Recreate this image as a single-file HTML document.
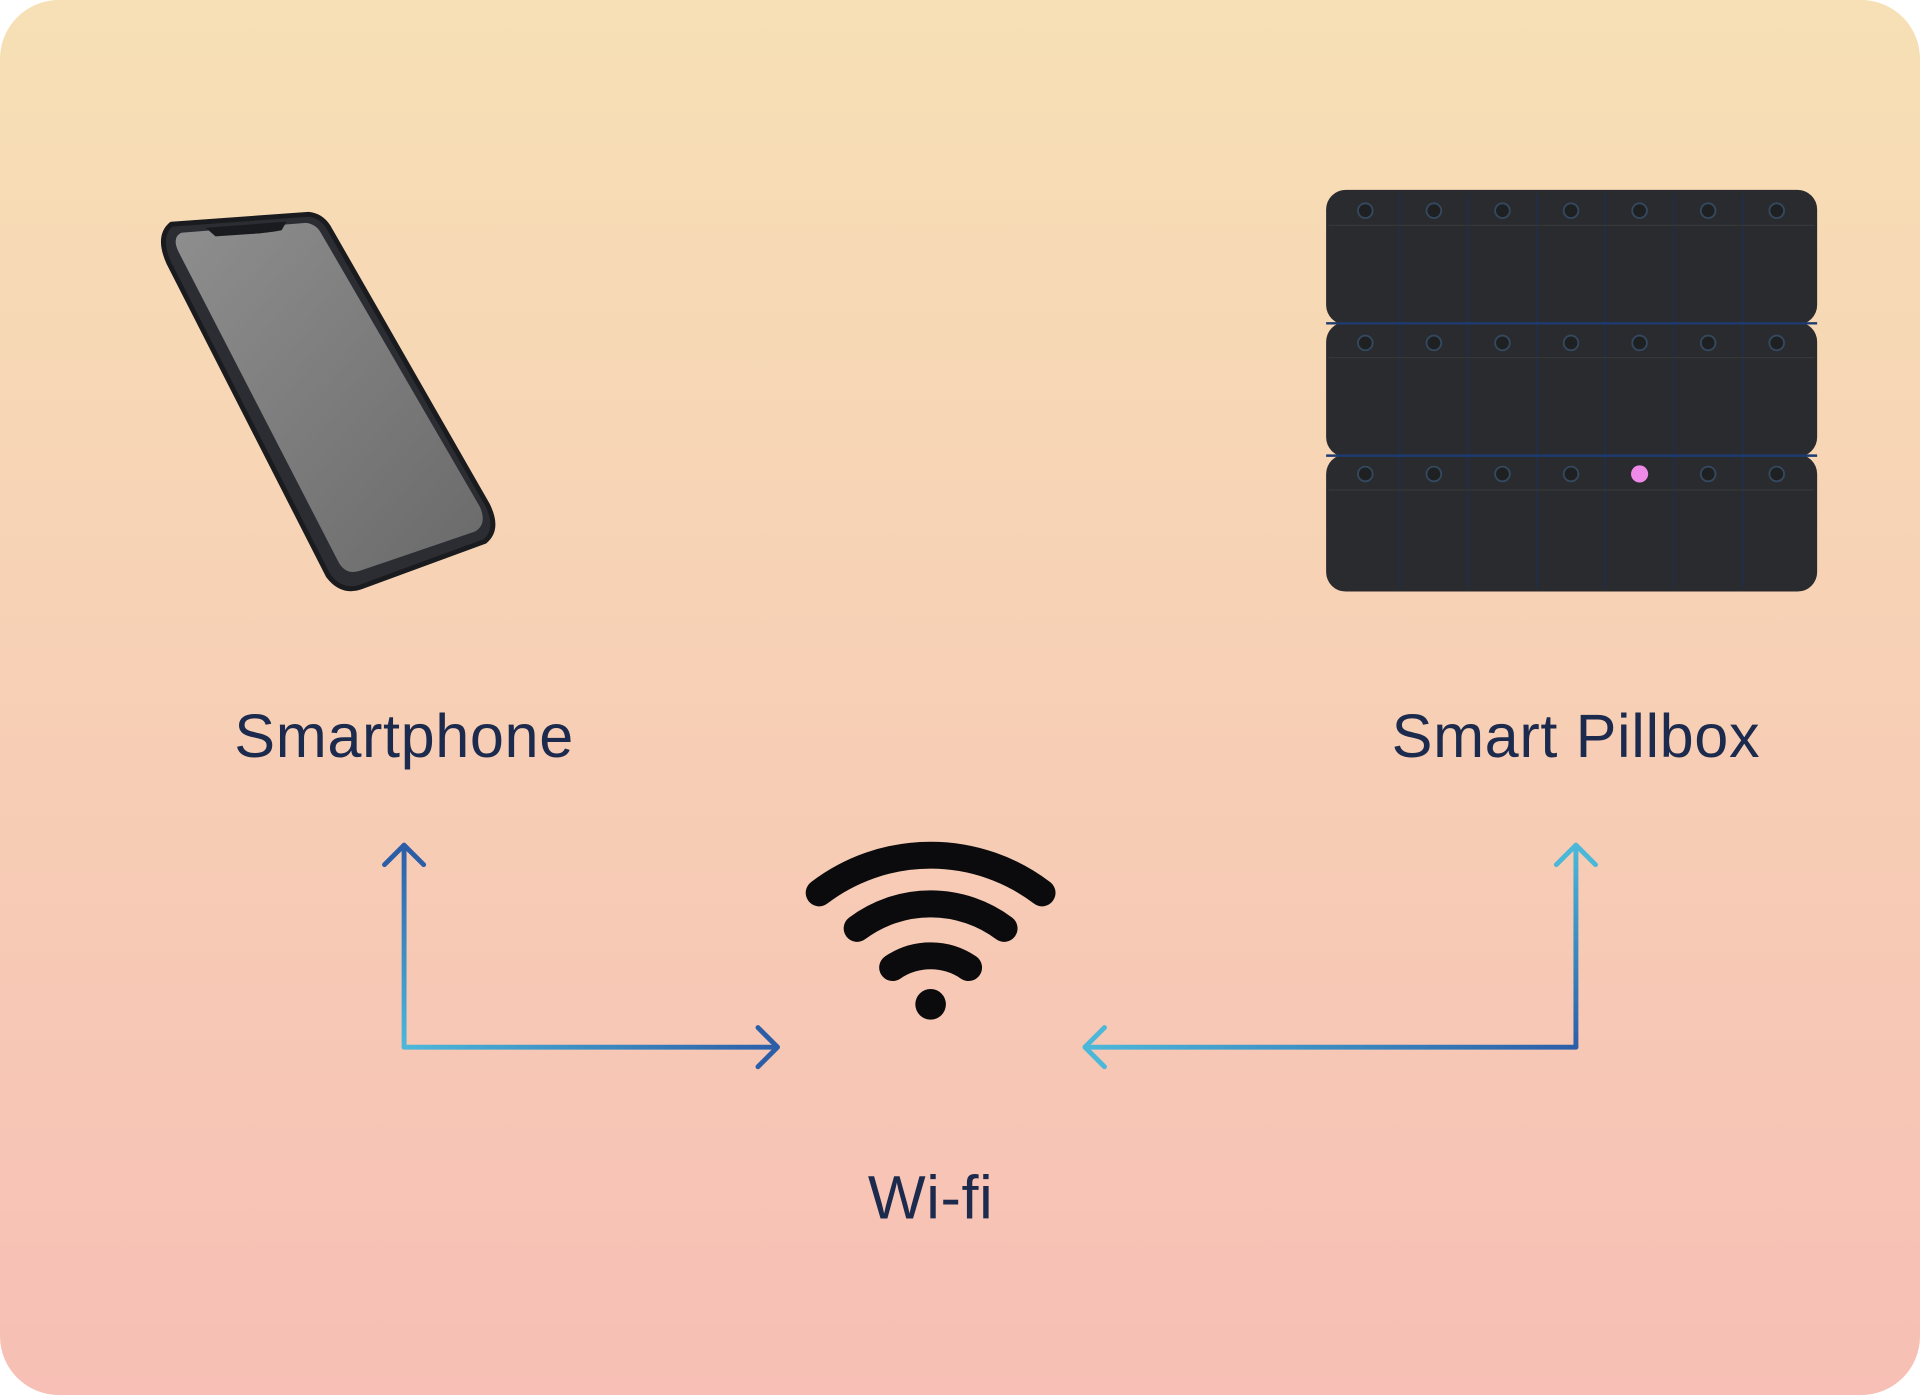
<!DOCTYPE html>
<html><head><meta charset="utf-8"><style>
html,body{margin:0;padding:0;background:#fff;}
svg{display:block}
</style></head><body>
<svg width="1920" height="1395" viewBox="0 0 1568 1139" preserveAspectRatio="none" xmlns="http://www.w3.org/2000/svg">
<defs>
<linearGradient id="bg" x1="0" y1="0" x2="0" y2="1">
<stop offset="0" stop-color="#f7e0b5"/><stop offset="1" stop-color="#f7bfb5"/>
</linearGradient>
<linearGradient id="scr" x1="0" y1="0" x2="1" y2="1">
<stop offset="0" stop-color="#8e8e8e"/><stop offset="1" stop-color="#6a6a6a"/>
</linearGradient>
<linearGradient id="lv" x1="0" y1="690" x2="0" y2="855" gradientUnits="userSpaceOnUse">
<stop offset="0" stop-color="#2c5ea8"/><stop offset="1" stop-color="#4cb8d9"/>
</linearGradient>
<linearGradient id="lh" x1="330" y1="0" x2="636" y2="0" gradientUnits="userSpaceOnUse">
<stop offset="0" stop-color="#4cb8d9"/><stop offset="1" stop-color="#2c5ea8"/>
</linearGradient>
<linearGradient id="rv" x1="0" y1="690" x2="0" y2="855" gradientUnits="userSpaceOnUse">
<stop offset="0" stop-color="#4cb8d9"/><stop offset="1" stop-color="#2c5ea8"/>
</linearGradient>
<linearGradient id="rh" x1="886" y1="0" x2="1287" y2="0" gradientUnits="userSpaceOnUse">
<stop offset="0" stop-color="#4cb8d9"/><stop offset="1" stop-color="#2c5ea8"/>
</linearGradient>
</defs>
<rect x="0" y="0" width="1568" height="1139" rx="48" fill="url(#bg)"/>

<!-- phone -->
<path d="M140 183 L252 175 Q262 176 268 185 L398 412 Q408 432 396 442 L298 478 Q280 486 268 470 L138 215 Q128 193 140 183 Z" fill="#2b2d33" stroke="#1a1b1f" stroke-width="4" stroke-linejoin="round"/>
<path d="M148 190 L250 182 Q258 183 262 190 L392 414 Q398 428 388 434 L294 466 Q282 470 276 458 L146 206 Q140 194 148 190 Z" fill="url(#scr)"/>
<path d="M168 186 L234 181 L230 188 Q220 190 206 191 L176 193 Z" fill="#1a1b1f"/>

<!-- pillbox -->
<g>
<rect x="1083" y="155" width="401" height="110" rx="16" fill="#2a2b2e"/>
<rect x="1083" y="263" width="401" height="110" rx="16" fill="#2a2b2e"/>
<rect x="1083" y="371" width="401" height="112" rx="16" fill="#2a2b2e"/>
<g stroke="#1f2e4e" stroke-width="1.2">
<line x1="1143" y1="158" x2="1143" y2="480"/>
<line x1="1199" y1="158" x2="1199" y2="480"/>
<line x1="1255" y1="158" x2="1255" y2="480"/>
<line x1="1311" y1="158" x2="1311" y2="480"/>
<line x1="1367" y1="158" x2="1367" y2="480"/>
<line x1="1423" y1="158" x2="1423" y2="480"/>
</g>
<g stroke="#1d3b70" stroke-width="2">
<line x1="1083" y1="264" x2="1484" y2="264"/>
<line x1="1083" y1="372" x2="1484" y2="372"/>
</g>
<g fill="#1f2022" stroke="#34495f" stroke-width="1.5">
<circle cx="1115" cy="172" r="6"/><circle cx="1171" cy="172" r="6"/><circle cx="1227" cy="172" r="6"/><circle cx="1283" cy="172" r="6"/><circle cx="1339" cy="172" r="6"/><circle cx="1395" cy="172" r="6"/><circle cx="1451" cy="172" r="6"/>
<circle cx="1115" cy="280" r="6"/><circle cx="1171" cy="280" r="6"/><circle cx="1227" cy="280" r="6"/><circle cx="1283" cy="280" r="6"/><circle cx="1339" cy="280" r="6"/><circle cx="1395" cy="280" r="6"/><circle cx="1451" cy="280" r="6"/>
<circle cx="1115" cy="387" r="6"/><circle cx="1171" cy="387" r="6"/><circle cx="1227" cy="387" r="6"/><circle cx="1283" cy="387" r="6"/><circle cx="1395" cy="387" r="6"/><circle cx="1451" cy="387" r="6"/>
</g>
<circle cx="1339" cy="387" r="7" fill="#f08ae8"/>
<g stroke="#363739" stroke-width="1"><line x1="1085" y1="400" x2="1482" y2="400"/><line x1="1085" y1="292" x2="1482" y2="292"/><line x1="1085" y1="184" x2="1482" y2="184"/></g>
</g>

<g font-family="Liberation Sans, sans-serif" font-size="50" fill="#1c2a4e" text-anchor="middle" letter-spacing="0.5">
<text x="330" y="618">Smartphone</text>
<text x="1287" y="618">Smart Pillbox</text>
<text x="760" y="995">Wi-fi</text>
</g>

<!-- connectors -->
<g fill="none" stroke-width="4" stroke-linecap="round" stroke-linejoin="round">
<line x1="330" y1="692" x2="330" y2="855" stroke="url(#lv)"/>
<line x1="330" y1="855" x2="634" y2="855" stroke="url(#lh)"/>
<polyline points="314,706 330,690 346,706" stroke="#2c5ea8"/>
<polyline points="619,839 635,855 619,871" stroke="#2c5ea8"/>
<line x1="1287" y1="692" x2="1287" y2="855" stroke="url(#rv)"/>
<line x1="887" y1="855" x2="1287" y2="855" stroke="url(#rh)"/>
<polyline points="1271,706 1287,690 1303,706" stroke="#4cb8d9"/>
<polyline points="902,839 886,855 902,871" stroke="#4cb8d9"/>
</g>

<!-- wifi -->
<g fill="none" stroke="#0b0b0d" stroke-width="22" stroke-linecap="round">
<path d="M669 729 A150 150 0 0 1 851 729"/>
<path d="M700 758 A100 100 0 0 1 820 758"/>
<path d="M729 790 A55 55 0 0 1 791 790"/>
</g>
<circle cx="760" cy="820" r="12.5" fill="#0b0b0d"/>
</svg>
</body></html>
